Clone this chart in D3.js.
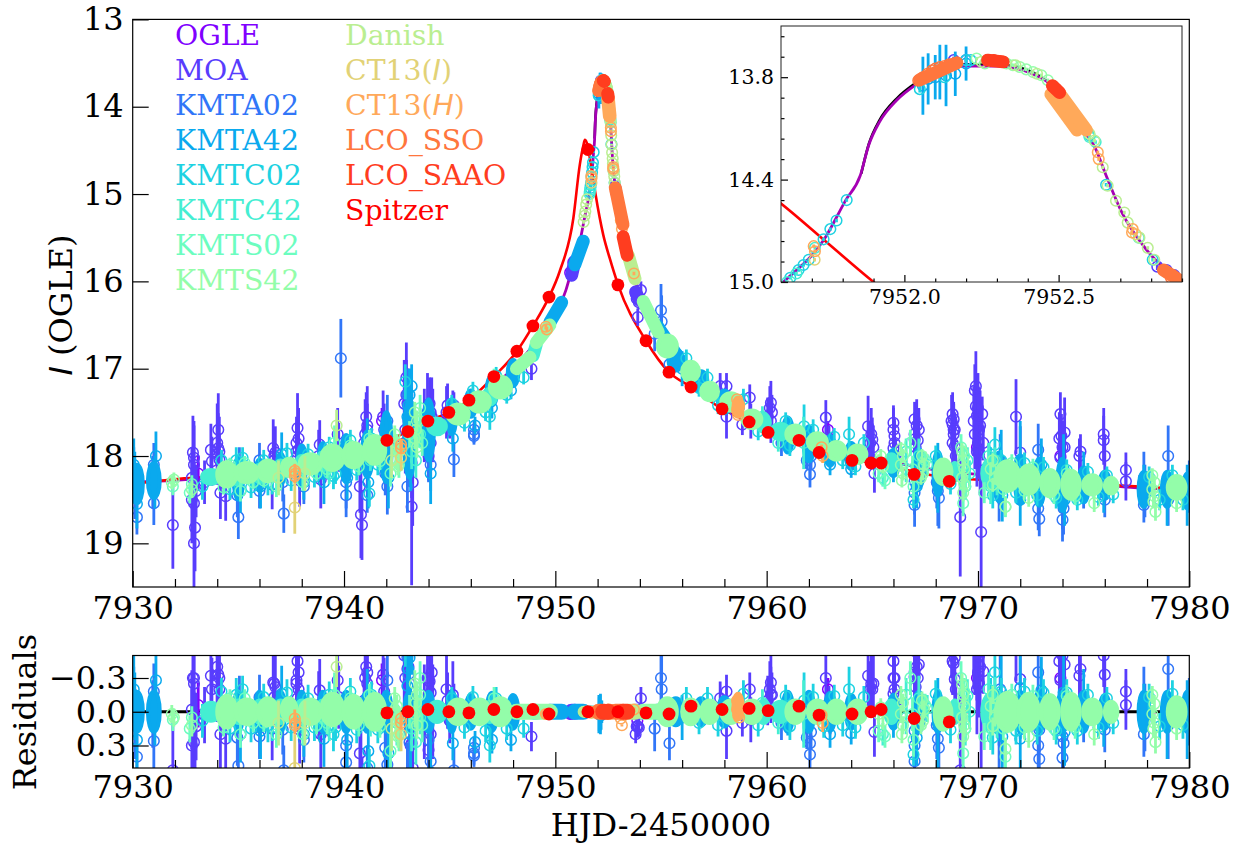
<!DOCTYPE html>
<html>
<head>
<meta charset="utf-8">
<script src="https://cdnjs.cloudflare.com/ajax/libs/d3/7.8.5/d3.min.js"></script>
<style>
body { margin: 0; background: #fff; }
text { font-family: "DejaVu Serif", serif; }
.tick line { stroke: #000; stroke-width: 1.2; }
.domain { display: none; }
</style>
</head>
<body>
<svg id="vis" width="1238" height="846"></svg>
<script>
'use strict';

var seriesNames = ['OGLE', 'MOA', 'KMTA02', 'KMTA42', 'KMTC02', 'KMTC42', 'KMTS02', 'KMTS42', 'Danish', 'CT13(I)', 'CT13(H)', 'LCO_SSO', 'LCO_SAAO', 'Spitzer'];
var seriesColors = ['#8000ff', '#583dfd', '#3176f8', '#0aa9ee', '#1dd2e2', '#45eed2', '#6cfdbf', '#93fda9', '#baee91', '#e2d276', '#ffa95a', '#ff763d', '#ff3d1f', '#ff0000'];

var xTicks = [7930, 7940, 7950, 7960, 7970, 7980];
var xMinorTicks = [7932, 7934, 7936, 7938, 7942, 7944, 7946, 7948, 7952, 7954, 7956, 7958, 7962, 7964, 7966, 7968, 7972, 7974, 7976, 7978];
var magTicks = [13, 14, 15, 16, 17, 18, 19];
var resTicks = [-0.3, 0, 0.3];
var insetXTicks = [7952.0, 7952.5];
var insetXMinor = [7951.7, 7951.8, 7951.9, 7952.1, 7952.2, 7952.3, 7952.4, 7952.6, 7952.7, 7952.8, 7952.9];
var insetYTicks = [13.8, 14.4, 15.0];
var insetYMinor = [13.56, 13.68, 13.92, 14.04, 14.16, 14.28, 14.52, 14.64, 14.76, 14.88];

// model curves, [t, mag]
var groundModel = [[7930, 18.3], [7932, 18.28], [7934, 18.24], [7936, 18.18], [7938, 18.1], [7940, 18.0], [7942, 17.88], [7943, 17.78], [7944, 17.66], [7945, 17.52], [7946, 17.38], [7947, 17.2], [7948, 17.0], [7949, 16.72], [7950, 16.4], [7950.5, 16.1], [7950.85, 15.8], [7951.2, 15.5], [7951.4, 15.25], [7951.62, 14.98], [7951.74, 14.75], [7951.81, 14.52], [7951.857, 14.376], [7951.884, 14.2], [7951.92, 14.06], [7951.975, 13.935], [7952.04, 13.84], [7952.105, 13.77], [7952.2, 13.735], [7952.3, 13.735], [7952.415, 13.78], [7952.48, 13.85], [7952.567, 14.08], [7952.62, 14.22], [7952.655, 14.38], [7952.707, 14.6], [7952.78, 14.8], [7952.87, 14.97], [7953.2, 15.47], [7953.67, 15.93], [7954.3, 16.28], [7955, 16.6], [7956, 16.95], [7957, 17.2], [7958, 17.38], [7959, 17.53], [7960, 17.65], [7961, 17.74], [7962, 17.82], [7964, 17.96], [7966, 18.07], [7968, 18.16], [7970, 18.21], [7972, 18.26], [7974, 18.32], [7976, 18.34], [7978, 18.37], [7980, 18.38]];
var blackModel = [[7951.86, 14.365], [7951.885, 14.19], [7951.92, 14.05], [7951.975, 13.925], [7952.04, 13.83], [7952.105, 13.76], [7952.2, 13.725], [7952.3, 13.725], [7952.415, 13.77], [7952.49, 13.86]];
var spitzerModel = [[7930, 18.32], [7932.2, 18.26], [7935, 18.22], [7938, 18.1], [7940, 17.98], [7942.03, 17.82], [7943.02, 17.72], [7943.97, 17.6], [7944.96, 17.5], [7945.91, 17.36], [7947.09, 17.09], [7948.18, 16.8], [7948.94, 16.51], [7949.7, 16.18], [7950.2, 15.89], [7950.85, 15.28], [7951.16, 14.66], [7951.32, 14.45], [7951.4, 14.38], [7951.55, 14.47], [7951.6, 14.54], [7951.75, 14.77], [7951.9, 15.0], [7952.27, 15.47], [7952.58, 15.74], [7952.97, 16.04], [7954.29, 16.68], [7955.38, 17.04], [7956.42, 17.21], [7957.89, 17.46], [7959.17, 17.61], [7960.07, 17.73], [7961.53, 17.82], [7962.48, 17.96], [7964.04, 18.05], [7965.42, 18.08], [7966.98, 18.18], [7968.64, 18.25], [7970, 18.27], [7973, 18.3], [7977, 18.34], [7980, 18.38]];

// points, [t, mag, err, residual]
var ogleRows = [[7933.1, 18.2, .2, -.06], [7941.8, 17.6, .15, -.28], [7950.7, 15.9, .03, .02], [7950.85, 15.78, .03, 0], [7953.88, 16.18, .03, .08], [7962.9, 17.7, .1, -.2], [7969.95, 17.9, .2, -.3], [7973.9, 18.0, .15, -.3]];
var moaRows = [[7931.9, 18.79, .5, .52], [7932.85, 17.96, .42, -.3], [7932.9, 18.02, .42, -.25], [7932.9, 18.54, .45, .27], [7932.95, 18.82, .5, .55], [7932.9, 19.0, .7, .73], [7932.8, 18.25, .35, -.02], [7933, 18.4, .3, .13], [7933.7, 17.93, .3, -.32], [7933.75, 18.06, .28, -.2], [7933.4, 18.3, .25, .03], [7934.05, 17.7, .42, -.54], [7934.05, 17.91, .4, -.33], [7934, 17.98, .35, -.26], [7934.1, 18.04, .3, -.2], [7934.15, 18.42, .3, .2], [7934.4, 18.46, .28, .24], [7936.65, 17.91, .33, -.26], [7936.75, 17.96, .3, -.22], [7936.6, 18.33, .28, .15], [7936.7, 18.05, .25, -.13], [7937.75, 17.85, .3, -.28], [7937.8, 17.68, .4, -.45], [7937.85, 17.93, .32, -.2], [7937.8, 18, .3, -.12], [7937.9, 18.28, .3, .16], [7938.85, 17.87, .28, -.19], [7938.9, 18.27, .33, .2], [7938.8, 18, .3, -.06], [7939.7, 17.75, .3, -.28], [7939.75, 17.9, .28, -.13], [7941.05, 17.55, .28, -.4], [7941.1, 17.7, .3, -.25], [7940.95, 17.85, .27, -.1], [7940.8, 18.67, .5, .68], [7940.85, 18.79, .4, .8], [7940.75, 18.35, .3, .37], [7941.85, 17.55, .3, -.33], [7941.9, 17.7, .3, -.18], [7942.95, 17.1, .4, -.68], [7942.95, 17.3, .4, -.58], [7943, 17.4, .4, -.38], [7943.1, 17.55, .35, -.25], [7943.2, 18.58, .9, .8], [7943.25, 18.3, .5, .5], [7943.2, 18.08, .4, .28], [7944.05, 17.4, .3, -.27], [7944.1, 17.5, .28, -.17], [7944.1, 17.85, .25, .2], [7944, 18, .28, .34], [7944.2, 17.65, .42, .0], [7943.8, 17.65, .42, 0], [7944.9, 17.42, .25, -.1], [7945, 17.6, .2, .08], [7945.2, 17.42, .15, -.1], [7948.87, 17, .13, .22], [7953.9, 16.41, .1, .13], [7954.05, 16.1, .1, -.12], [7953.85, 16.2, .08, .13], [7953.8, 16.14, .08, .2], [7953.95, 16.24, .08, .14], [7957.8, 17.2, .15, -.12], [7958.1, 17.2, .15, -.18], [7958.1, 17.55, .25, .17], [7959.2, 17.33, .15, -.2], [7958.85, 17.64, .12, .1], [7959.25, 17.6, .2, .07], [7960.2, 17.39, .25, -.26], [7960.25, 17.5, .2, -.15], [7960.05, 17.55, .22, -.1], [7962.8, 17.56, .2, -.3], [7962.95, 17.8, .15, -.08], [7963, 17.95, .15, .05], [7964.8, 17.66, .35, -.32], [7965, 17.81, .25, -.2], [7964.95, 17.75, .3, -.25], [7965.1, 18.2, .22, .18], [7966, 17.62, .2, -.45], [7966.05, 17.77, .2, -.3], [7966, 17.91, .2, -.16], [7966.1, 18, .2, -.07], [7967, 17.58, .2, -.54], [7967, 17.81, .2, -.31], [7967.05, 17.9, .2, -.22], [7967.2, 17.7, .25, -.42], [7967.15, 17.82, .2, -.3], [7968.8, 17.52, .25, -.66], [7968.85, 17.58, .2, -.6], [7968.8, 17.64, .2, -.54], [7968.9, 17.7, .2, -.48], [7968.85, 17.75, .2, -.43], [7968.9, 17.89, .2, -.29], [7968.95, 18, .15, -.2], [7969.9, 17.2, .4, -1], [7969.85, 17.25, .3, -.95], [7969.9, 17.43, .3, -.77], [7969.95, 17.54, .3, -.66], [7970.05, 17.7, .3, -.5], [7970, 17.85, .3, -.35], [7970.05, 17.96, .3, -.25], [7970.2, 17.52, .2, -.68], [7970.25, 17.85, .2, -.36], [7969.16, 18.7, .68, .52], [7970.15, 18.87, .65, .66], [7971.8, 17.55, .43, -.7], [7972, 17.96, .3, -.29], [7973.9, 17.52, .25, -.78], [7973.95, 17.77, .25, -.53], [7973.9, 18.02, .25, -.28], [7974.1, 17.73, .4, -.58], [7974.1, 17.9, .3, -.42], [7974.8, 18, .2, -.32], [7974.85, 17.95, .2, -.38], [7975.95, 17.75, .3, -.58], [7975.95, 17.82, .28, -.5], [7976, 18, .25, -.33], [7977, 18.16, .2, -.18], [7977, 18.29, .22, -.06], [7952.82, 14.91, .02, 0], [7952.85, 14.93, .02, 0], [7952.875, 14.96, .02, 0], [7952.2, 13.7, .02, 0], [7952.16, 13.7, .02, 0], [7952.9, 15, .02, 0],
    [7942.9, 17.7, .5, -.3], [7943.05, 17.6, .5, -.4], [7943.15, 17.85, .5, .3], [7942.85, 17.4, .5, -.5], [7943.1, 17.5, .5, -.55], [7944.15, 17.55, .45, -.35], [7943.95, 17.5, .45, -.3], [7944.85, 17.5, .3, -.2], [7945.15, 17.55, .3, -.15], [7968.75, 17.6, .3, -.6], [7968.8, 17.85, .3, -.45], [7968.85, 17.7, .3, -.55], [7969.8, 17.6, .4, -.6], [7969.85, 17.75, .4, -.55], [7970.1, 17.65, .4, -.7], [7970, 17.45, .4, -.75], [7970.1, 18.05, .4, -.4], [7969.95, 17.95, .4, -.2], [7973.85, 17.8, .3, -.45], [7974, 17.9, .3, -.5], [7966, 17.7, .25, -.3], [7966.05, 17.85, .25, -.2], [7967.1, 17.65, .3, -.4], [7967, 17.75, .25, -.35], [7964.9, 17.85, .25, -.2], [7965.05, 17.9, .25, -.25], [7934, 17.85, .45, -.4], [7934.1, 17.95, .4, -.3], [7932.9, 18.1, .45, -.3], [7932.8, 18.5, .5, .3], [7937.85, 17.8, .35, -.35], [7937.75, 17.95, .33, -.25], [7941, 17.75, .4, -.3], [7941.1, 17.65, .45, -.35], [7936.7, 18, .3, -.25], [7960.15, 17.45, .25, -.2], [7960.2, 17.6, .25, -.15]];
var kmta02Rows = [[7930.1, 18.42, .3, .12], [7930.2, 18.7, .2, .4], [7930.05, 18.15, .25, -.15], [7931, 18.54, .25, .26], [7931, 18.1, .25, -.18], [7930.95, 18.3, .3, .02], [7935, 18.7, .25, .48], [7934.95, 18.45, .25, .23], [7935.05, 18.1, .2, -.12], [7936, 18.4, .2, .22], [7936, 18.05, .2, -.13], [7937.15, 18.66, .22, .52], [7937.1, 18.3, .22, .16], [7938.1, 18.35, .2, .25], [7939.85, 16.88, .45, -1.1], [7940.1, 18.3, .3, .3], [7940.1, 18.45, .25, .45], [7941.1, 18.45, .2, .5], [7942, 18, .3, .12], [7942.05, 18.35, .32, .47], [7942.05, 17.6, .3, -.28], [7941.95, 18.2, .25, .32], [7943, 18.35, .3, .57], [7943, 17.3, .3, -.48], [7943.1, 18.05, .3, .27], [7943.05, 17.45, .3, -.33], [7944, 17.9, .4, .25], [7944.1, 18.1, .3, .44], [7945.2, 18.04, .2, .52], [7946.15, 17.7, .1, .32], [7946.15, 17.75, .1, .37], [7946.15, 17.77, .1, .39], [7955, 16.33, .3, -.3], [7955.03, 16.46, .3, -.2], [7954.7, 16.6, .2, .15], [7955.4, 16.95, .15, .28], [7960.7, 17.85, .15, .1], [7962.05, 18.21, .15, .38], [7962.05, 18.1, .15, .28], [7962.1, 18, .15, .18], [7961.9, 18.05, .1, .23], [7967, 18.29, .25, .17], [7967, 18.42, .25, .3], [7967, 18.56, .25, .44], [7967.05, 18.2, .2, .08], [7968.1, 18.4, .4, .24], [7968.15, 18.48, .35, .32], [7968.05, 18.3, .3, .12], [7971, 18.4, .35, .15], [7971.05, 18.05, .3, -.2], [7971, 18.3, .25, .05], [7972.85, 18.6, .25, .3], [7972.9, 18.72, .2, .42], [7972.85, 17.93, .3, -.35], [7972.9, 18.45, .2, .16], [7974, 18.54, .3, .22], [7974, 18.73, .25, .41], [7974.05, 18.45, .3, .12], [7974.05, 18.6, .3, .28], [7975, 18.4, .2, .07], [7976, 18.5, .2, .16], [7977.85, 18.56, .2, .2], [7977.85, 18.25, .3, -.1], [7977.9, 18.4, .3, .05], [7979, 18, .35, -.38], [7979, 18.5, .3, .12], [7980, 18.35, .3, 0]];
var kmta42Rows = [[7930.1, 18.25, .3, -.05], [7930.2, 18.55, .28, .25], [7930.05, 18.1, .3, -.2], [7931.05, 18.3, .3, 0], [7931.1, 18, .28, -.28], [7935.1, 18.4, .25, .2], [7936.05, 18.35, .25, .17], [7937.05, 17.98, .25, -.16], [7938.1, 18.3, .2, .2], [7939.05, 18.3, .25, .24], [7940.15, 18.25, .25, .25], [7941.15, 18.3, .3, .35], [7941.1, 17.82, .25, -.13], [7942.1, 18.25, .35, .37], [7943.1, 17.3, .3, -.48], [7943, 17.55, .35, -.23], [7943.15, 18, .4, .2], [7943.2, 17.2, .25, -.58], [7943.05, 17.42, .3, -.38], [7944.1, 18.2, .35, .54], [7945.15, 17.8, .15, .28], [7946.2, 17.65, .1, .27], [7947, 17.45, .12, .25], [7947.9, 17.25, .1, .25], [7952.06, 13.85, .17, .02], [7952.077, 13.81, .15, .02], [7952.1, 13.8, .13, .02], [7952.115, 13.77, .16, .01], [7952.135, 13.79, .18, .02], [7952.165, 13.78, .13, .03], [7952.2, 13.72, .1, 0], [7956, 17, .2, .05], [7961, 17.8, .15, .06], [7963, 18.1, .12, .2], [7964, 18.15, .1, .19], [7966, 18.1, .2, .03], [7967.1, 18.35, .25, .23], [7968.1, 18.25, .4, .1], [7971.1, 18.1, .4, -.13], [7971.15, 18.45, .3, .22], [7972, 18.05, .45, -.21], [7972, 18.5, .3, .24], [7973, 18.1, .3, -.19], [7974.05, 18.15, .4, -.17], [7974.1, 18.5, .3, .18], [7975, 18.2, .25, -.13], [7975.95, 18.45, .2, .11], [7977.85, 18.35, .25, 0], [7978.95, 18.5, .3, .12], [7979.9, 18.45, .35, .07]];
var kmtc02Rows = [[7951.63, 14.975, .01, 0], [7951.657, 14.93, .01, 0], [7951.673, 14.9, .01, 0], [7951.69, 14.87, .01, 0], [7951.738, 14.75, .01, 0], [7951.76, 14.69, .01, 0], [7951.78, 14.64, .01, 0], [7951.813, 14.52, .01, 0], [7952.2, 13.7, .01, 0], [7952.215, 13.7, .01, 0], [7952.654, 14.43, .01, 0], [7952.805, 14.87, .01, 0], [7952.6, 14.14, .01, 0], [7952.13, 13.8, .02, 0], [7952.05, 13.87, .02, 0], [7939.5, 18.23, .15, .2], [7941.2, 18.43, .15, .48], [7942.9, 17.15, .2, -.6], [7961.77, 17.66, .25, -.1], [7970.8, 17.87, .2, -.35], [7970.6, 18.1, .2, -.1], [7946.9, 17.55, .15, .3], [7933.3, 18.35, .15, .08], [7934.9, 18.05, .15, -.15], [7936.4, 18.3, .15, .12], [7963.9, 17.75, .2, -.2], [7966.95, 18.5, .1, .38], [7970.7, 18.45, .15, .23],
    [7934.2, 18.05, .12, -.18], [7935.2, 18.02, .12, -.2], [7936.2, 18.05, .12, -.13], [7937.3, 17.97, .12, -.17], [7938.3, 17.98, .12, -.12], [7939.3, 17.9, .12, -.15], [7940.3, 17.82, .12, -.18], [7941.3, 17.8, .12, -.15], [7934.6, 18.38, .12, .15], [7935.6, 18.36, .12, .15], [7936.6, 18.32, .12, .14], [7937.5, 18.28, .12, .14], [7938.6, 18.24, .12, .14], [7939.6, 18.2, .12, .14], [7940.6, 18.16, .12, .16], [7941.6, 18.1, .12, .16], [7945.1, 17.4, .1, -.12], [7945.7, 17.62, .1, .14], [7946.1, 17.25, .1, -.13], [7946.7, 17.5, .1, .17], [7947.2, 17.08, .1, -.12], [7947.7, 17.3, .1, .15], [7948.5, 17.1, .08, .15], [7956.2, 16.88, .1, -.12], [7956.8, 17.22, .1, .1], [7957.2, 17.1, .1, -.12], [7957.7, 17.42, .1, .12], [7958.9, 17.35, .12, -.16], [7959.6, 17.72, .1, .12], [7960.9, 17.6, .1, -.14], [7961.1, 17.88, .12, .13], [7962.2, 17.7, .12, -.13], [7962.7, 17.98, .1, .13], [7963.2, 17.78, .1, -.14], [7963.6, 18.05, .1, .12], [7964.6, 17.85, .1, -.13], [7964.2, 18.12, .1, .14], [7971.1, 18.05, .12, -.18], [7971.8, 18.42, .12, .17], [7972.2, 18.08, .12, -.18], [7972.8, 18.45, .12, .17], [7973.1, 18.13, .12, -.17], [7973.7, 18.48, .12, .17], [7974.2, 18.16, .12, -.17], [7974.7, 18.5, .12, .17], [7975.2, 18.18, .1, -.15], [7975.7, 18.47, .1, .14], [7976.1, 18.22, .1, -.12], [7976.4, 18.44, .1, .1], [7978.1, 18.24, .12, -.13], [7978.6, 18.5, .12, .13], [7979.2, 18.22, .12, -.16], [7979.7, 18.5, .12, .12], [7968, 18, .12, -.16], [7968.7, 18.32, .12, .16]];
var kmtc42Rows = [[7952.6, 14.15, .01, 0], [7952.62, 14.18, .01, 0], [7952.76, 14.74, .01, 0], [7951.62, 15, .01, 0], [7951.65, 14.95, .01, 0], [7951.71, 14.8, .01, 0], [7939.3, 18.2, .12, .14], [7941.25, 18.05, .12, .1], [7942.5, 17.95, .2, .1], [7943.2, 17.95, .2, .15], [7943.6, 17.75, .15, .05], [7943.4, 18.05, .2, .27], [7959.8, 17.55, .12, -.08], [7960.55, 17.85, .1, .1], [7961.75, 17.85, .3, .02], [7965.5, 18.25, .1, .2], [7966.6, 17.95, .15, -.15], [7966.6, 18.15, .15, .05], [7967.2, 18, .2, -.12], [7967.6, 18.1, .12, -.03], [7969.5, 18.05, .15, -.14], [7969.6, 18.2, .15, 0], [7969.4, 18.35, .15, .15], [7970.5, 18.0, .15, -.2], [7970.7, 18.15, .15, -.05], [7970.9, 18.3, .15, .08], [7970.6, 18.35, .2, .14], [7970.8, 18.05, .15, -.16]];
var kmts02Rows = [[7931.9, 18.35, .1, .07], [7932.7, 18.42, .12, .15], [7932.8, 18.32, .1, .05], [7935.1, 18.4, .12, .2], [7936.8, 18.35, .12, .2], [7938.05, 18.3, .1, .2], [7939.6, 17.95, .2, -.05], [7939.55, 17.85, .2, -.15], [7942.4, 17.85, .15, -.02], [7942.6, 18.1, .15, .2], [7942.2, 18.2, .15, .35], [7943.1, 17.75, .15, 0], [7943.6, 17.6, .15, -.15], [7943.5, 17.75, .15, 0], [7943.7, 17.85, .15, .12], [7943.6, 17.45, .15, -.3], [7947.1, 17.1, .1, -.12], [7965.3, 18.2, .1, .17], [7965.6, 18.28, .1, .22], [7966.8, 17.85, .15, -.3], [7966.9, 18.15, .15, .02], [7966.95, 18.35, .15, .25], [7967.5, 18.05, .1, -.06], [7969.2, 17.9, .15, -.3], [7969.35, 18.0, .12, -.18], [7969.3, 18.1, .12, -.1], [7969.25, 18.25, .12, .05], [7969.4, 18.35, .12, .15], [7969.3, 18.54, .15, .37], [7971.3, 18.58, .12, .4], [7970.3, 18.42, .12, .22],
    [7934.3, 18.36, .08, .14], [7934.6, 18.1, .08, -.12], [7935.3, 18.08, .08, -.12], [7935.7, 18.3, .08, .1], [7936.2, 18.28, .08, .1], [7938.7, 18.2, .08, .12], [7939.2, 18.15, .1, .1], [7940.3, 17.88, .1, -.12], [7940.7, 18.12, .1, .12], [7941.2, 17.8, .1, -.15], [7941.7, 18.06, .1, .13], [7971.2, 18.38, .1, .15], [7971.6, 18.08, .1, -.15], [7972.2, 18.4, .1, .14], [7972.6, 18.13, .1, -.14], [7973.6, 18.45, .1, .15], [7974.2, 18.2, .1, -.14], [7974.6, 18.46, .1, .14]];
var kmts42Rows = [[7931.85, 18.3, .08, .02], [7931.95, 18.27, .08, .05], [7932.8, 18.38, .1, .12], [7942.4, 17.75, .1, -.12], [7942.5, 17.85, .1, -.05], [7942.6, 17.95, .1, .05], [7942.45, 18.05, .1, .15], [7942.55, 18.12, .1, .22], [7943.35, 17.5, .12, -.25], [7943.45, 17.6, .12, -.15], [7943.4, 17.7, .12, -.08], [7943.35, 17.8, .12, .02], [7943.45, 17.9, .12, .12], [7965.4, 18, .08, -.04], [7965.3, 18.06, .08, .02], [7965.5, 18.12, .08, .08], [7966.35, 17.92, .08, -.15], [7966.45, 18, .08, -.08], [7966.35, 18.1, .08, .02], [7966.45, 18.2, .08, .12], [7966.4, 18.28, .08, .2], [7967.35, 18, .08, -.1], [7967.45, 18.1, .08, -.02], [7967.4, 18.2, .08, .08], [7967.3, 18.25, .08, .12], [7969.25, 17.95, .1, -.24], [7969.3, 18.05, .1, -.15], [7969.35, 18.15, .1, -.05], [7969.25, 18.25, .1, .05], [7969.35, 18.32, .1, .12], [7969.3, 18.42, .1, .22], [7970.7, 18.05, .08, -.15], [7970.6, 18.15, .08, -.05], [7970.8, 18.25, .08, .05], [7970.7, 18.33, .08, .13], [7971.3, 18.58, .1, .33], [7972.4, 18.48, .1, .22], [7975.5, 18.54, .1, .2], [7978.25, 18.22, .08, -.15], [7978.35, 18.3, .08, -.07], [7978.25, 18.38, .08, .02], [7978.35, 18.46, .08, .1], [7978.3, 18.52, .08, .15], [7978.4, 18.64, .1, .27], [7979.4, 18.54, .1, .15], [7952.234, 13.691, .01, 0], [7952.261, 13.72, .01, 0], [7952.331, 13.72, .01, 0], [7952.352, 13.73, .01, 0], [7952.374, 13.74, .01, 0], [7952.395, 13.754, .01, 0], [7952.417, 13.77, .01, 0], [7952.444, 13.789, .01, 0], [7952.465, 13.818, .01, 0]];
var danishRows = [[7952.6, 14.132, .01, 0], [7952.616, 14.171, .01, 0], [7952.643, 14.328, .01, 0], [7952.659, 14.436, .01, 0], [7952.686, 14.524, .01, 0], [7952.713, 14.593, .01, 0], [7952.724, 14.652, .01, 0], [7952.762, 14.74, .01, 0], [7952.789, 14.8, .01, 0], [7952.81, 14.87, .01, 0], [7952.25, 13.71, .01, 0], [7952.36, 13.73, .01, 0], [7952.43, 13.78, .01, 0], [7951.38, 15.25, .02, 0], [7951.42, 15.2, .02, 0], [7951.46, 15.12, .02, 0], [7951.5, 15.06, .02, 0], [7951.34, 15.32, .02, 0], [7939.65, 17.65, .18, -.4], [7936.9, 18.25, .2, .1], [7938.15, 18.2, .2, .1], [7942.25, 18.05, .2, .15]];
var ct13iRows = [[7937.67, 18.59, .3, .5], [7942.7, 18.02, .15, .2], [7951.709, 14.87, .01, .01], [7952.75, 14.72, .01, 0]];
var ct13hRows = [[7937.67, 18.17, .08, .06], [7937.67, 18.23, .08, .12], [7937.7, 18.2, .08, .1], [7942.7, 17.87, .06, .06], [7942.7, 17.91, .06, .1], [7951.706, 14.79, .01, 0], [7951.71, 14.82, .01, 0], [7952.627, 14.24, .01, 0], [7952.63, 14.28, .01, 0], [7952.74, 14.69, .01, 0], [7952.738, 14.71, .01, 0], [7949.55, 16.52, .03, .02], [7949.6, 16.55, .03, .02], [7953.72, 15.91, .02, -.02], [7958.6, 17.35, .03, -.1], [7958.65, 17.41, .03, -.05], [7958.6, 17.47, .03, -.02], [7958.65, 17.53, .03, .03], [7962.6, 17.9, .03, .03], [7958.7, 17.42, .03, .05], [7953.1, 15.3, .01, .06], [7953.15, 15.4, .01, .12], [7962.65, 18, .08, .1]];
var lcoSsoRows = [[7952.045, 13.82, .01, 0], [7952.06, 13.8, .01, 0], [7952.075, 13.78, .01, 0], [7952.09, 13.76, .01, 0], [7952.1, 13.75, .01, 0], [7952.115, 13.74, .01, 0], [7952.13, 13.735, .01, 0], [7952.145, 13.725, .01, 0], [7952.16, 13.72, .01, 0], [7952.17, 13.716, .01, 0], [7952.864, 14.975, .01, 0], [7952.87, 14.96, .01, 0]];
var lcoSaaoRows = [[7952.27, 13.7, .01, 0], [7952.29, 13.7, .01, 0], [7952.31, 13.707, .01, 0], [7952.32, 13.71, .01, 0], [7952.48, 13.85, .01, 0], [7952.492, 13.87, .01, 0], [7952.503, 13.89, .01, 0], [7953.21, 15.49, .01, 0], [7953.25, 15.52, .01, 0], [7953.37, 15.66, .01, 0], [7953.4, 15.7, .01, 0]];
var spitzerRows = [[7942.03, 17.82, 0, .01], [7943.02, 17.72, 0, .0], [7943.97, 17.6, 0, -.02], [7944.96, 17.5, 0, 0], [7945.91, 17.36, 0, .01], [7947.09, 17.09, 0, -.02], [7948.18, 16.8, 0, 0], [7948.94, 16.51, 0, -.02], [7949.7, 16.18, 0, .02], [7951.54, 14.49, 0, 0], [7952.96, 16.04, 0, 0], [7954.29, 16.68, 0, .01], [7955.38, 17.04, 0, .02], [7956.42, 17.21, 0, -.05], [7957.89, 17.46, 0, -.02], [7959.17, 17.61, 0, -.03], [7960.07, 17.73, 0, -.01], [7961.53, 17.82, 0, -.05], [7962.48, 17.96, 0, .03], [7964.04, 18.05, 0, .02], [7964.94, 18.08, 0, 0], [7965.42, 18.08, 0, -.02], [7966.98, 18.21, 0, .06], [7968.64, 18.29, 0, .09]];

// crowded nights where the points merge, [t, mag, half span in t, half span in mag, residual]
var kmta42Nights = [[7930.2, 18.32, .28, .22, 0], [7931, 18.28, .28, .2, 0], [7935, 18.26, .22, .24, 0], [7936, 18.22, .2, .18, 0], [7937, 18.15, .2, .18, 0], [7938, 18.1, .2, .22, 0], [7939, 18.05, .2, .2, 0], [7940.1, 18.03, .25, .27, 0], [7941.1, 17.98, .25, .26, 0], [7942, 17.9, .25, .4, 0], [7943.1, 17.8, .25, .45, 0], [7944, 17.7, .25, .35, 0], [7945.1, 17.55, .2, .2, 0], [7946, 17.4, .25, .15, 0], [7947, 17.25, .25, .17, 0], [7948, 17.05, .25, .15, 0], [7955.7, 16.9, .35, .12, 0], [7956.9, 17.15, .3, .12, 0], [7958, 17.38, .3, .13, 0], [7961, 17.76, .25, .2, 0], [7962, 17.86, .25, .2, 0], [7963, 17.94, .25, .17, 0], [7964, 18, .25, .15, 0], [7966, 18.08, .25, .15, 0], [7967.2, 18.14, .25, .22, 0], [7968.1, 18.2, .2, .25, 0], [7971, 18.24, .25, .28, 0], [7972, 18.27, .25, .28, 0], [7972.9, 18.3, .25, .27, 0], [7974, 18.33, .25, .3, 0], [7975, 18.33, .25, .2, 0], [7976, 18.33, .25, .15, 0], [7977.85, 18.38, .25, .2, 0], [7978.95, 18.38, .25, .2, 0], [7979.9, 18.4, .2, .2, 0]];
var kmtc42Nights = [[7933.7, 18.24, .42, .08, 0], [7935, 18.23, .3, .1, 0], [7936, 18.2, .3, .1, 0], [7937, 18.15, .3, .1, 0], [7938, 18.1, .3, .1, 0], [7939, 18.06, .3, .1, 0], [7944.4, 17.66, .42, .09, 0], [7946.9, 17.32, .3, .09, 0], [7959.85, 17.62, .3, .1, 0], [7960.65, 17.72, .42, .09, 0], [7965.9, 18.08, .3, .1, 0], [7968.9, 18.18, .2, .1, 0], [7970.6, 18.2, .4, .16, 0]];
var kmts42Nights = [[7934.45, 18.21, .45, .14, 0], [7935.4, 18.19, .52, .11, 0], [7936.4, 18.17, .45, .12, 0], [7937.4, 18.13, .35, .1, -.02], [7938.4, 18.09, .5, .11, 0], [7939.45, 18.02, .52, .14, -.02], [7940.45, 17.99, .48, .14, 0], [7941.45, 17.93, .5, .16, 0], [7945.4, 17.52, .5, .11, 0], [7946.4, 17.38, .5, .11, 0], [7947.4, 17.21, .5, .12, 0], [7955.3, 16.74, .45, .12, 0], [7956.4, 17.03, .4, .11, 0], [7957.3, 17.26, .4, .1, 0], [7958.3, 17.38, .45, .1, 0], [7959.3, 17.58, .45, .1, 0], [7961.35, 17.75, .42, .1, 0], [7962.4, 17.84, .45, .1, 0], [7963.3, 17.94, .42, .1, 0], [7964.3, 17.98, .42, .1, 0], [7968.35, 18.18, .4, .14, .02], [7971.4, 18.23, .55, .17, 0], [7972.4, 18.27, .48, .16, 0], [7973.4, 18.31, .42, .15, 0], [7974.4, 18.33, .42, .16, 0], [7975.4, 18.33, .42, .11, 0], [7976.3, 18.34, .3, .09, 0], [7979.4, 18.36, .42, .13, 0]];
var ct13hNights = [[7958.65, 17.44, .22, .11, -.05]];

// long strings of points on the steep wings, [t0, mag0, t1, mag1]
var moaRuns = [[7950.77, 15.93, 7950.92, 15.77], [7953.8, 16.12, 7953.95, 16.2]];
var kmta42Runs = [[7949.74, 16.47, 7950.3, 16.24], [7950.92, 15.81, 7951.32, 15.54], [7954.8, 16.5, 7955.9, 16.9]];
var kmtc42Runs = [[7948.95, 16.85, 7949.1, 16.72]];
var kmts42Runs = [[7948.16, 17, 7948.8, 16.87], [7949.1, 16.7, 7949.74, 16.5], [7954.16, 16.23, 7954.87, 16.58]];
var danishRuns = [[7953.45, 15.7, 7953.77, 15.97]];
var ct13hRuns = [[7952.475, 13.9, 7952.56, 14.11], [7952.505, 13.9, 7952.59, 14.11]];
var lcoSsoRuns = [[7952.84, 14.93, 7953.2, 15.35], [7952.05, 13.815, 7952.17, 13.716]];
var lcoSaaoRuns = [[7952.27, 13.7, 7952.32, 13.71], [7952.48, 13.85, 7952.503, 13.89], [7953.21, 15.49, 7953.4, 15.7]];

var seriesRows = [ogleRows, moaRows, kmta02Rows, kmta42Rows, kmtc02Rows, kmtc42Rows, kmts02Rows, kmts42Rows, danishRows, ct13iRows, ct13hRows, lcoSsoRows, lcoSaaoRows, spitzerRows];
var seriesNights = [[], [], [], kmta42Nights, [], kmtc42Nights, [], kmts42Nights, [], [], ct13hNights, [], [], []];
var seriesRuns = [[], moaRuns, [], kmta42Runs, [], kmtc42Runs, [], kmts42Runs, danishRuns, [], ct13hRuns, lcoSsoRuns, lcoSaaoRuns, []];

var svg = d3.select('#vis');

var xMain = d3.scaleLinear().domain([7930, 7980]).range([132.7, 1189.3]);
var yMain = d3.scaleLinear().domain([13, 19.5]).range([19.4, 587]);
var yRes = d3.scaleLinear().domain([-0.5, 0.5]).range([655.5, 768]);
var xInset = d3.scaleLinear().domain([7951.6, 7952.9]).range([781, 1182]);
var yInset = d3.scaleLinear().domain([13.5, 15]).range([26, 282]);

function addClip(id, x, y) {
    svg.append('clipPath').attr('id', id).append('rect')
        .attr('x', x.range()[0]).attr('y', y.range()[0])
        .attr('width', x.range()[1] - x.range()[0])
        .attr('height', y.range()[1] - y.range()[0]);
}
addClip('clip-main', xMain, yMain);
addClip('clip-res', xMain, yRes);
addClip('clip-inset', xInset, yInset);

// Draws one panel, useRes picks the residual column instead of the magnitude
function drawPanel(g, x, y, useRes, withNights) {
    var yOf = function (d) { return useRes ? y(d[3]) : y(d[1]); };
    var errTop = function (d) { return useRes ? y(d[3] - d[2]) : y(d[1] - d[2]); };
    var errBot = function (d) { return useRes ? y(d[3] + d[2]) : y(d[1] + d[2]); };

    seriesNames.forEach(function (name, i) {
        var color = seriesColors[i];
        var s = g.append('g').attr('class', 'series');

        if (name === 'Spitzer') {
            s.selectAll('circle').data(seriesRows[i]).enter().append('circle')
                .attr('cx', function (d) { return x(d[0]); })
                .attr('cy', yOf)
                .attr('r', 6.4)
                .attr('fill', color);
            return;
        }
        s.selectAll('.bar').data(seriesRows[i]).enter().append('line')
            .attr('x1', function (d) { return x(d[0]); })
            .attr('x2', function (d) { return x(d[0]); })
            .attr('y1', errTop)
            .attr('y2', errBot)
            .attr('stroke', color)
            .attr('stroke-width', 2.8);
        s.selectAll('circle').data(seriesRows[i]).enter().append('circle')
            .attr('cx', function (d) { return x(d[0]); })
            .attr('cy', yOf)
            .attr('r', 5.3)
            .attr('fill', 'none')
            .attr('stroke', color)
            .attr('stroke-width', 1.5);

        if (withNights) {
            s.selectAll('.night').data(seriesNights[i]).enter().append('ellipse')
                .attr('cx', function (d) { return x(d[0]); })
                .attr('cy', function (d) { return useRes ? y(d[4]) : y(d[1]); })
                .attr('rx', function (d) { return x(d[0] + d[2]) - x(d[0]); })
                .attr('ry', function (d) { return useRes ? Math.min(Math.abs(y(d[1] + d[3]) - y(d[1])), 20) : Math.abs(y(d[1] + d[3]) - y(d[1])); })
                .attr('fill', color)
                .attr('stroke', color)
                .attr('stroke-width', 4);
        }
        s.selectAll('.run').data(seriesRuns[i]).enter().append('line')
            .attr('x1', function (d) { return x(d[0]); })
            .attr('x2', function (d) { return x(d[2]); })
            .attr('y1', function (d) { return useRes ? y(0) : y(d[1]); })
            .attr('y2', function (d) { return useRes ? y(0) : y(d[3]); })
            .attr('stroke', color)
            .attr('stroke-width', useRes ? 16 : 13)
            .attr('stroke-linecap', 'round');
    });
}

function curveLine(x, y) {
    return d3.line()
        .x(function (d) { return x(d[0]); })
        .y(function (d) { return y(d[1]); })
        .curve(d3.curveMonotoneX);
}

function drawModels(g, x, y) {
    g.append('path').datum(blackModel).attr('d', curveLine(x, y))
        .attr('fill', 'none').attr('stroke', '#000').attr('stroke-width', 2.6);
    g.append('path').datum(groundModel).attr('d', curveLine(x, y))
        .attr('fill', 'none').attr('stroke', '#a600b4').attr('stroke-width', 2.8);
    g.append('path').datum(spitzerModel).attr('d', curveLine(x, y))
        .attr('fill', 'none').attr('stroke', '#ff0000').attr('stroke-width', 2.6);
}

function frame(x, y) {
    svg.append('rect')
        .attr('x', x.range()[0]).attr('y', y.range()[0])
        .attr('width', x.range()[1] - x.range()[0])
        .attr('height', y.range()[1] - y.range()[0])
        .attr('fill', 'none').attr('stroke', '#000').attr('stroke-width', 1.2);
}

// main panel
var mainG = svg.append('g').attr('clip-path', 'url(#clip-main)');
drawModels(mainG, xMain, yMain);
drawPanel(mainG, xMain, yMain, false, true);

// residual panel
var resG = svg.append('g').attr('clip-path', 'url(#clip-res)');
resG.append('line')
    .attr('x1', xMain(7930)).attr('x2', xMain(7980))
    .attr('y1', yRes(0)).attr('y2', yRes(0))
    .attr('stroke', '#000').attr('stroke-width', 3);
drawPanel(resG, xMain, yRes, true, true);

// bottom axes with major and minor ticks
[[yMain, 9], [yRes, 7]].forEach(function (p) {
    var bottom = p[0].range()[1];
    svg.append('g').attr('transform', 'translate(0,' + bottom + ')')
        .call(d3.axisBottom(xMain).tickValues(xTicks).tickSizeInner(-16).tickSizeOuter(0).tickPadding(p[1]).tickFormat(d3.format('d')))
        .call(function (a) { a.selectAll('text').attr('font-size', 32).attr('font-family', 'DejaVu Serif').attr('fill', '#000'); });
    svg.append('g').attr('transform', 'translate(0,' + bottom + ')')
        .call(d3.axisBottom(xMain).tickValues(xMinorTicks).tickSizeInner(-8).tickSizeOuter(0).tickFormat(''));
});

svg.append('g').attr('transform', 'translate(' + xMain(7930) + ',0)')
    .call(d3.axisLeft(yMain).tickValues(magTicks).tickSizeInner(-16).tickSizeOuter(0).tickPadding(9).tickFormat(d3.format('d')))
    .call(function (a) { a.selectAll('text').attr('font-size', 32).attr('font-family', 'DejaVu Serif').attr('fill', '#000'); });

svg.append('g').attr('transform', 'translate(' + xMain(7930) + ',0)')
    .call(d3.axisLeft(yRes).tickValues(resTicks).tickSizeInner(-16).tickSizeOuter(0).tickPadding(6).tickFormat(d3.format('.1f')))
    .call(function (a) { a.selectAll('text').attr('font-size', 32).attr('font-family', 'DejaVu Serif').attr('fill', '#000'); });

frame(xMain, yMain);
frame(xMain, yRes);

// inset
svg.append('rect')
    .attr('x', 781).attr('y', 26).attr('width', 401).attr('height', 256)
    .attr('fill', '#fff');
var insetG = svg.append('g').attr('clip-path', 'url(#clip-inset)');
drawModels(insetG, xInset, yInset);
drawPanel(insetG, xInset, yInset, false, false);

svg.append('g').attr('transform', 'translate(0,282)')
    .call(d3.axisBottom(xInset).tickValues(insetXTicks).tickSizeInner(-7).tickSizeOuter(0).tickPadding(7).tickFormat(d3.format('.1f')))
    .call(function (a) { a.selectAll('text').attr('font-size', 20.5).attr('font-family', 'DejaVu Serif').attr('fill', '#000'); });
svg.append('g').attr('transform', 'translate(0,282)')
    .call(d3.axisBottom(xInset).tickValues(insetXMinor).tickSizeInner(-3.5).tickSizeOuter(0).tickFormat(''));
svg.append('g').attr('transform', 'translate(781,0)')
    .call(d3.axisLeft(yInset).tickValues(insetYTicks).tickSizeInner(-7).tickSizeOuter(0).tickPadding(7).tickFormat(d3.format('.1f')))
    .call(function (a) { a.selectAll('text').attr('font-size', 20.5).attr('font-family', 'DejaVu Serif').attr('fill', '#000'); });
svg.append('g').attr('transform', 'translate(781,0)')
    .call(d3.axisLeft(yInset).tickValues(insetYMinor).tickSizeInner(-3.5).tickSizeOuter(0).tickFormat(''));
svg.append('rect')
    .attr('x', 781).attr('y', 26).attr('width', 401).attr('height', 256)
    .attr('fill', 'none').attr('stroke', '#222').attr('stroke-width', 1);

// legend, two columns of coloured names
function addName(text, color, x, y) {
    var t = svg.append('text').attr('x', x).attr('y', y).attr('font-size', 28.3).attr('fill', color);
    var m = text.match(/^(.*\()([IH])(\))$/);
    if (m) {
        t.append('tspan').text(m[1]);
        t.append('tspan').attr('font-family', 'DejaVu Sans').attr('font-style', 'italic').text(m[2]);
        t.append('tspan').text(m[3]);
    } else {
        t.text(text);
    }
}
seriesNames.forEach(function (name, i) {
    var col = i < 8 ? 0 : 1;
    var row = i < 8 ? i : i - 8;
    addName(name, seriesColors[i], col === 0 ? 175 : 345, 45 + row * 35);
});

// axis titles
var yTitle = svg.append('text')
    .attr('transform', 'translate(72,305) rotate(-90)')
    .attr('text-anchor', 'middle')
    .attr('font-size', 32);
yTitle.append('tspan').attr('font-family', 'DejaVu Sans').attr('font-style', 'italic').text('I');
yTitle.append('tspan').text(' (OGLE)');

svg.append('text')
    .attr('transform', 'translate(36,712) rotate(-90)')
    .attr('text-anchor', 'middle')
    .attr('font-size', 32)
    .text('Residuals');

svg.append('text')
    .attr('x', 661).attr('y', 836)
    .attr('text-anchor', 'middle')
    .attr('font-size', 32)
    .text('HJD-2450000');
</script>
</body>
</html>
